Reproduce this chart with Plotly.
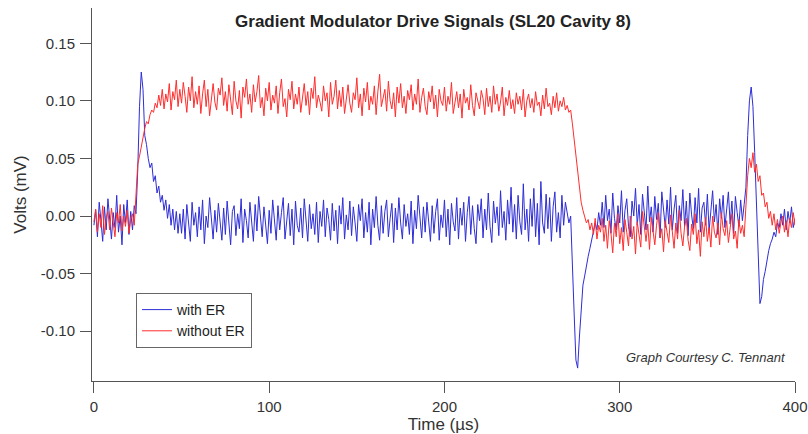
import plotly.graph_objects as go

# Time base: samples every 1 microsecond from 0 to 400 us
N = 401
time_us = list(range(N))

# Values, in thousandths of the axis unit
with_er_milli = [
    # t 0..24
    -8, 5, -18, 12, -4, -22, 8, -12, 15, -6, -20, 3, -10, 18, -14, 0, -25, 10, -6, 14,
    -16, 4, -12, 9, 2,
    # t 25..29
    40, 95, 125, 110, 70,
    # t 30..49
    62, 50, 42, 46, 30, 35, 20, 26, 12, 18, 5, 14, -2, 10, -8, 6, -12, 4, -15, 2,
    # t 50..269
    -15, 6, -20, 10, -5, -22, 12, -8, 3, -18,
    8, -12, 14, -24, 0, -10, 16, -6, -20, 5,
    -14, 11, -3, -21, 7, -16, 13, -9, -25, 4,
    9, -17, 2, -11, 15, -23, 6, -4, -19, 12,
    -7, -22, 10, -13, 17, 1, -18, 8, -10, -24,
    5, -15, 14, -6, -21, 9, -12, 3, 16, -20,
    -2, 11, -17, 6, -25, 13, -8, -14, 7, -19,
    15, -5, -22, 10, -11, 2, -16, 12, -23, 4,
    -9, 14, -18, 7, -3, -21, 11, -13, 5, -24,
    9, -7, 16, -20, 1, -12, 13, -17, 8, -6,
    -22, 10, -4, 15, -19, 3, -14, 12, -25, 6,
    -10, 17, -8, -21, 9, -15, 4, 14, -18, -2,
    11, -23, 7, -12, 16, -6, -20, 10, -9, 2,
    -16, 13, -24, 5, -11, 18, -3, -19, 8, -14,
    12, -7, -22, 9, -15, 4, 15, -21, 1, -10,
    14, -18, 6, -25, 11, -5, -13, 16, -20, 7,
    -8, 12, -22, 3, 17, -16, 9, -11, -24, 10,
    -4, 15, -19, 6, -12, 20, -9, -23, 13, -6,
    8, -17, 22, -10, 4, -21, 14, -7, 25, -14,
    10, -20, 18, -5, -16, 28, -12, 6, -22, 15,
    -9, 24, -18, 11, -25, 30, -6, -15, 19, -11,
    16, -22, 8, 21, -14, 3, -19, 18, -8, 12,
    # t 270..289
    2, -6, 0, -35, -85, -125, -132, -105, -80, -60,
    -52, -42, -35, -28, -20, -14, -6, -12, 3, -8,
    # t 290..371
    12, -10, 18, -4, 6, -15, 20, -2, -12, 9,
    -6, 22, -14, 5, 15, -9, -18, 13, 0, 24,
    -8, 10, -16, 19, 3, -12, 26, -5, 8, -14,
    17, -3, 11, -19, 21, 2, -10, 14, -7, 25,
    -12, 6, 18, -15, 9, -4, 23, -9, 13, -17,
    20, 1, -11, 16, -6, 24, -14, 7, 12, -8,
    19, -13, 4, 22, -5, 10, -16, 15, -2, 18,
    -10, 8, 21, -7, 13, -15, 17, 3, -9, 14,
    -4, 10,
    # t 372..400
    25, 70, 100, 112, 95, 55, 10, -45, -76, -70,
    -55, -48, -38, -30, -24, -20, -14, -18, -6, -10,
    2, -8, 6, -12, 4, -6, 8, -10, -2,
]

without_er_milli = [
    # t 0..23
    -5, 6, -14, 2, -10, 9, -16, -2, 4, -12, 7, -8, -18, 3, -6, 10, -13, 0, -9, 5,
    -15, -3, 2, -8,
    # t 24..49
    20, 45, 52, 60, 70, 76, 82, 80, 88, 92, 90, 98, 94, 105, 96, 110, 93, 106, 99, 115,
    92, 108, 101, 118, 95, 110,
    # t 50..269
    98, 116, 104, 90, 112, 100, 121, 94, 108, 97,
    113, 89, 106, 118, 95, 110, 87, 103, 115, 99,
    92, 111, 105, 120, 96, 108, 91, 114, 101, 88,
    117, 100, 93, 109, 85, 112, 103, 119, 97, 106,
    90, 114, 99, 108, 122, 94, 103, 87, 111, 100,
    116, 92, 105, 98, 113, 89, 107, 119, 95, 102,
    86, 110, 101, 117, 93, 106, 97, 112, 90, 104,
    115, 96, 108, 88, 111, 102, 121, 94, 105, 99,
    91, 113, 100, 107, 86, 116, 97, 104, 118, 93,
    109, 95, 112, 89, 103, 114, 98, 90, 107, 101,
    120, 94, 106, 87, 111, 99, 116, 92, 104, 97,
    113, 88, 108, 123, 95, 102, 110, 91, 117, 100,
    93, 107, 86, 112, 98, 115, 94, 104, 89, 109,
    101, 114, 92, 106, 97, 119, 90, 103, 111, 95,
    88, 108, 99, 113, 93, 105, 86, 110, 100, 96,
    112, 91, 104, 97, 116, 89, 101, 108, 94, 106,
    85, 110, 98, 103, 92, 114, 96, 87, 107, 100,
    93, 109, 102, 88, 111, 95, 104, 90, 113, 97,
    106, 91, 99, 112, 87, 103, 96, 109, 93, 101,
    89, 107, 97, 104, 92, 110, 86, 100, 106, 94,
    102, 90, 108, 96, 99, 87, 105, 93, 111, 95,
    98, 88, 104, 94, 107, 91, 100, 95, 103, 92,
    # t 270..289
    96, 90, 92, 80, 66, 52, 38, 22, 12, 5,
    0, -6, -3, -12, -6, -16, -2, -20, -8, -14,
    # t 290..371
    -2, -22, -8, -28, -4, -15, -32, -6, -18, 2,
    -24, -10, -30, -3, -14, -26, 0, -20, -9, -33,
    -5, -17, -27, 4, -12, -22, -7, -29, -1, -16,
    -25, -8, 3, -19, -11, -31, -4, -14, -23, 1,
    -13, -28, -6, -20, 5, -15, -26, -9, -2, -21,
    -30, -7, -16, 2, -24, -12, -35, -5, -18, -1,
    -22, -10, -27, 0, -14, -19, -6, -25, 3, -11,
    -17, -4, -23, -9, 2, -20, -13, -28, -3, -15,
    -8, -18,
    # t 372..400
    10, 35, 50, 42, 55, 38, 45, 30, 35, 18,
    20, 8, 12, -2, 4, -8, 2, -12, -3, -15,
    -5, 0, -14, -4, -18, -2, -10, 3, -8,
]

assert len(with_er_milli) == N, len(with_er_milli)
assert len(without_er_milli) == N, len(without_er_milli)

with_er = [v / 1000 for v in with_er_milli]
without_er = [v / 1000 for v in without_er_milli]

x_tick_vals = [0, 100, 200, 300, 400]
x_tick_text = ["0", "100", "200", "300", "400"]
y_tick_vals = [-0.10, -0.05, 0.00, 0.05, 0.10, 0.15]
y_tick_text = ["-0.10", "-0.05", "0.00", "0.05", "0.10", "0.15"]

FONT = "Liberation Sans, Arial, sans-serif"

fig = go.Figure()
fig.add_trace(go.Scatter(x=time_us, y=with_er, mode="lines", name="with ER",
                         line=dict(color="rgb(45,45,215)", width=1)))
fig.add_trace(go.Scatter(x=time_us, y=without_er, mode="lines", name="without ER",
                         line=dict(color="rgb(255,45,45)", width=1)))

axis_common = dict(showline=True, linecolor="#555", linewidth=1, ticks="outside",
                   ticklen=11, tickcolor="#555", showgrid=False, zeroline=False,
                   automargin=False,
                   tickfont=dict(family=FONT, size=15, color="#333"))

fig.update_layout(
    width=808, height=434,
    margin=dict(l=92, r=13, t=8, b=53),
    paper_bgcolor="white", plot_bgcolor="white",
    font=dict(family=FONT, color="#333"),
    title=dict(text="<b>Gradient Modulator Drive Signals (SL20 Cavity 8)</b>",
               font=dict(family=FONT, size=17, color="#222"),
               x=433 / 808, xanchor="center", yref="container",
               y=1 - 21 / 434, yanchor="middle"),
    xaxis=dict(range=[-1.1, 400], tickvals=x_tick_vals, ticktext=x_tick_text,
               ticklabelstandoff=1,
               title=dict(text="Time (µs)", font=dict(family=FONT, size=17, color="#333"),
                          standoff=4),
               **axis_common),
    yaxis=dict(range=[-0.1432, 0.1806], tickvals=y_tick_vals, ticktext=y_tick_text,
               ticklabelstandoff=2,
               title=dict(text="Volts (mV)", font=dict(family=FONT, size=17, color="#333"),
                          standoff=9),
               **axis_common),
    legend=dict(x=(136 - 92) / 703, y=(381 - 293) / 373, xanchor="left", yanchor="top",
                bgcolor="white", bordercolor="#666", borderwidth=1,
                font=dict(family=FONT, size=14, color="#222"),
                tracegroupgap=0, itemwidth=30),
    showlegend=True,
    annotations=[dict(text="<i>Graph Courtesy C. Tennant</i>", xref="paper", yref="paper",
                      x=(788 - 92) / 703, y=(381 - 357) / 373, xanchor="right",
                      yanchor="middle", showarrow=False,
                      font=dict(family=FONT, size=13, color="#333"))],
)

fig.write_html("out.html", config={"displayModeBar": False},
               post_script="document.body.style.margin='0';")
